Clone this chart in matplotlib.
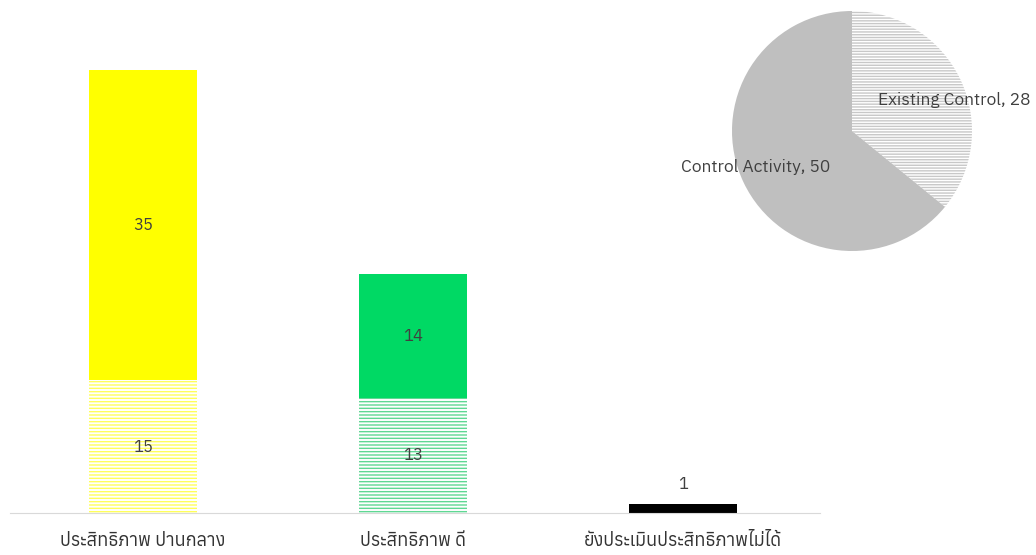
import matplotlib
matplotlib.use("Agg")
import matplotlib.pyplot as plt
import numpy as np

plt.rcParams['font.family'] = ['Anuphan', 'DejaVu Sans']
plt.rcParams['hatch.linewidth'] = 1.0

categories = ["ประสิทธิภาพ ปานกลาง", "ประสิทธิภาพ ดี", "ยังประเมินประสิทธิภาพไม่ได้"]
existing = [15, 13, 0]
activity = [35, 14, 1]
solid_colors = ["#FFFF00", "#00D964", "#000000"]
hatch_colors = ["#FFFF5A", "#5FD893", "#000000"]

pie_labels = ["Existing Control", "Control Activity"]
pie_values = [sum(existing), sum(activity)]

fig = plt.figure(figsize=(10.36, 5.55), dpi=100)
ax = fig.add_axes([10 / 1036, 42 / 555, 810 / 1036, 513 / 555])
x = np.arange(len(categories))
w = 0.4
for i in range(len(categories)):
    if existing[i] > 0:
        ax.bar(x[i], existing[i], w, color="white", edgecolor=hatch_colors[i],
               hatch="-----", linewidth=0)
        ax.text(x[i], existing[i] / 2, str(existing[i]), ha="center", va="center",
                fontsize=12, color="#404040")
    ax.bar(x[i], activity[i], w, bottom=existing[i], color=solid_colors[i], linewidth=0)
    if activity[i] > 2:
        ax.text(x[i], existing[i] + activity[i] / 2, str(activity[i]), ha="center",
                va="center", fontsize=12, color="#404040")
    else:
        ax.text(x[i], existing[i] + activity[i] + 2.3, str(activity[i]), ha="center",
                va="center", fontsize=12, color="#404040")

ax.set_xlim(-0.493, 2.507)
ax.set_ylim(0, 513 / 8.86)
for s in ["top", "right", "left"]:
    ax.spines[s].set_visible(False)
ax.spines["bottom"].set_color("#D9D9D9")
ax.set_yticks([])
ax.set_xticks(x)
ax.set_xticklabels(categories, fontsize=13, color="#333333")
ax.tick_params(axis="x", length=0, pad=14)

pax = fig.add_axes([(852 - 120) / 1036, (555 - 131 - 120) / 555, 240 / 1036, 240 / 555])
wedges, _ = pax.pie(pie_values, startangle=90, counterclock=False,
                    colors=["white", "#BFBFBF"],
                    wedgeprops=dict(linewidth=0))
wedges[0].set_hatch("------")
wedges[0].set_edgecolor("#C8C8C8")
pax.text(0.85, 0.26, f"{pie_labels[0]}, {pie_values[0]}", ha="center", va="center",
         fontsize=12.5, color="#404040")
pax.text(-0.8, -0.3, f"{pie_labels[1]}, {pie_values[1]}", ha="center", va="center",
         fontsize=12.5, color="#404040")
pax.set_xlim(-1, 1)
pax.set_ylim(-1, 1)
pax.set_aspect("equal")

fig.savefig("out.png")
